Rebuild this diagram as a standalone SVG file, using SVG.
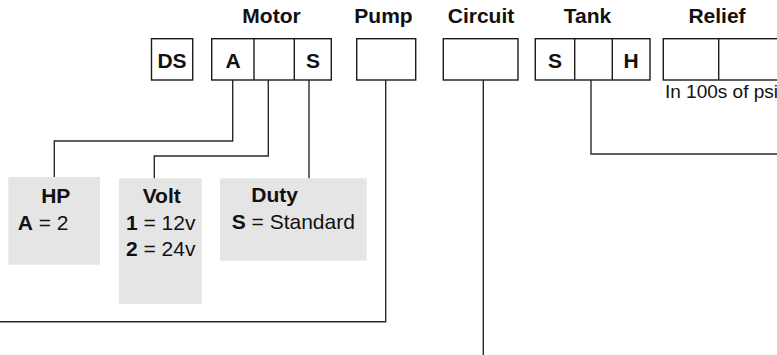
<svg xmlns="http://www.w3.org/2000/svg" width="777" height="355" viewBox="0 0 777 355">
<style>
text{font-family:"Liberation Sans",Arial,sans-serif;font-size:21px;fill:#111}
.b{font-weight:bold}
.m{text-anchor:middle}
.box{fill:#fff;stroke:#1a1a1a;stroke-width:1.4}
.div{stroke:#1a1a1a;stroke-width:1.4;fill:none}
.gray{fill:#e5e5e5}
.con{fill:none;stroke:#2a2a2a;stroke-width:1.4}
</style>
<rect width="777" height="355" fill="#fff"/>
<g id="headings">
<text class="b m" x="271.5" y="23">Motor</text>
<text class="b m" x="383.5" y="23">Pump</text>
<text class="b m" x="481" y="23">Circuit</text>
<text class="b m" x="587.5" y="23">Tank</text>
<text class="b m" x="717" y="23">Relief</text>
</g>
<g id="ds">
<rect class="box" x="151.5" y="38.7" width="41.2" height="41.3"/>
<text class="b m" x="172" y="68.3">DS</text>
</g>
<g id="motor">
<rect class="box" x="211.7" y="38.7" width="119.6" height="41.3"/>
<path class="div" d="M254 38.7V80M294.3 38.7V80"/>
<text class="b m" x="233" y="68.3">A</text>
<text class="b m" x="313" y="68.3">S</text>
</g>
<g id="pump">
<rect class="box" x="356.7" y="38.7" width="59" height="41.3"/>
</g>
<g id="circuit">
<rect class="box" x="443.3" y="38.7" width="74.7" height="41.3"/>
</g>
<g id="tank">
<rect class="box" x="535.3" y="38.7" width="114.7" height="41.3"/>
<path class="div" d="M574.7 38.7V80M612.3 38.7V80"/>
<text class="b m" x="555" y="68.3">S</text>
<text class="b m" x="631" y="68.3">H</text>
</g>
<g id="relief">
<rect class="box" x="663.3" y="38.7" width="130" height="41.3"/>
<path class="div" d="M718.7 38.7V80"/>
<text x="665" y="98.3" style="font-size:19px">In 100s of psi</text>
</g>
<g id="hp">
<rect class="gray" x="8.3" y="177" width="91.7" height="87.7"/>
<text class="b m" x="55.8" y="203.3">HP</text>
<text x="17.7" y="230"><tspan class="b">A</tspan> = 2</text>
</g>
<g id="volt">
<rect class="gray" x="119" y="178.3" width="82.7" height="125.7"/>
<text class="b m" x="161.7" y="203.3">Volt</text>
<text x="126" y="230"><tspan class="b">1</tspan> = 12v</text>
<text x="126" y="256"><tspan class="b">2</tspan> = 24v</text>
</g>
<g id="duty">
<rect class="gray" x="220" y="178.3" width="146.7" height="82.4"/>
<text class="b m" x="274.7" y="202">Duty</text>
<text x="231.7" y="229"><tspan class="b">S</tspan> = Standard</text>
</g>
<g id="connectors">
<path class="con" d="M232.7 80V141H54.3V177"/>
<path class="con" d="M268.3 80V156H154.3V178.3"/>
<path class="con" d="M309 80V178.3"/>
<path class="con" d="M385.7 80V321.7H0"/>
<path class="con" d="M483.3 80V355"/>
<path class="con" d="M591 80V154H777"/>
</g>
</svg>
